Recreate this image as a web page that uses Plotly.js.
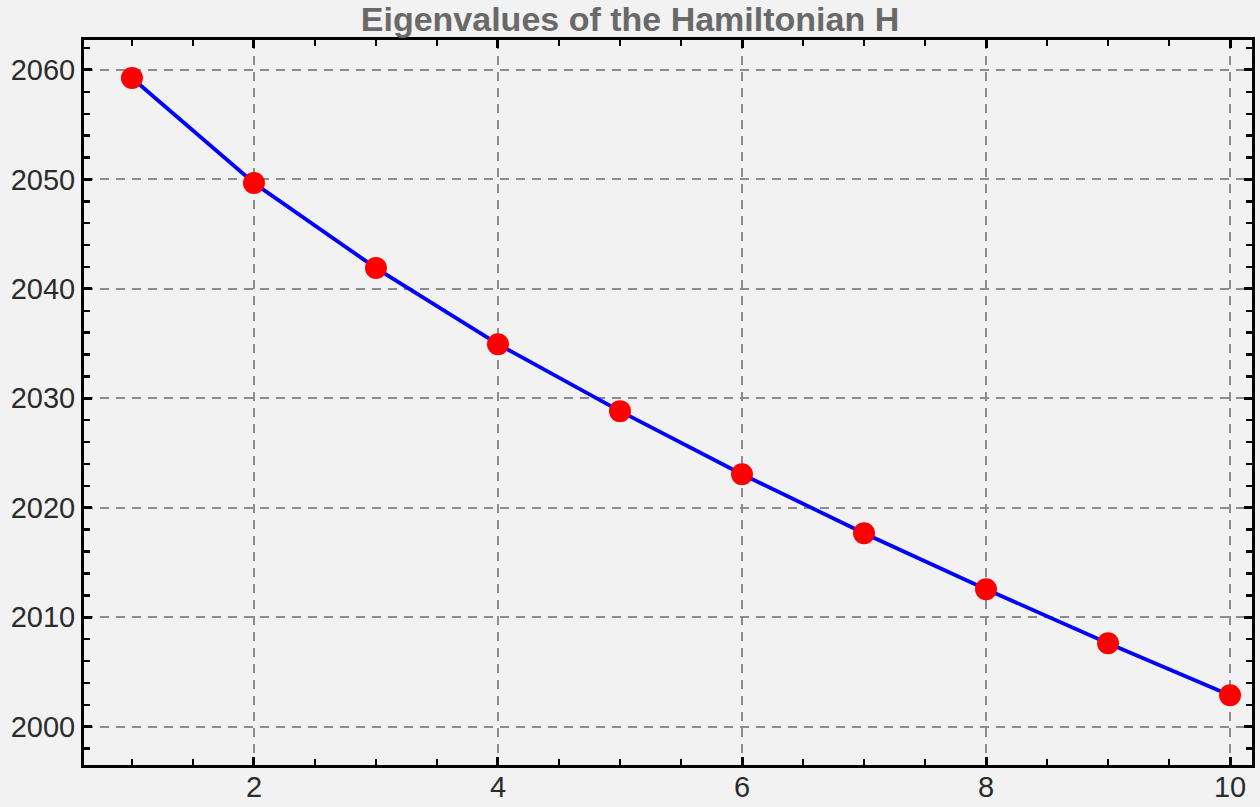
<!DOCTYPE html>
<html>
<head>
<meta charset="utf-8">
<script src="https://cdn.plot.ly/plotly-3.0.1.min.js"></script>
<style>
  html, body { margin: 0; padding: 0; background: #f2f2f2; }
  #chart { width: 1260px; height: 807px; }
</style>
</head>
<body>
<div id="chart"></div>
<script>
// Eigenvalue index and the corresponding eigenvalues of H
const levelIndex = [1, 2, 3, 4, 5, 6, 7, 8, 9, 10];
const eigenvalues = [2059.27, 2049.67, 2041.9, 2034.95, 2028.83, 2023.07, 2017.68, 2012.56, 2007.62, 2002.87];
const xTickValues = [2, 4, 6, 8, 10];
const yTickValues = [2000, 2010, 2020, 2030, 2040, 2050, 2060];

const tickFont = { family: 'Liberation Sans, Arial, sans-serif', size: 29, color: '#2b2b2b' };

const trace = {
  x: levelIndex,
  y: eigenvalues,
  type: 'scatter',
  mode: 'lines+markers',
  line: { color: '#0000ff', width: 3.8 },
  marker: { color: '#ff0000', size: 22 },
  hoverinfo: 'x+y'
};

const frameAxis = {
  showline: true,
  linecolor: '#000000',
  linewidth: 3,
  mirror: 'ticks',
  ticks: 'inside',
  ticklen: 8,
  tickwidth: 3,
  tickcolor: '#000000',
  showgrid: true,
  gridcolor: '#8c8c8c',
  gridwidth: 2,
  griddash: '9px,7px',
  zeroline: false,
  tickfont: tickFont
};

const layout = {
  width: 1260,
  height: 807,
  paper_bgcolor: '#f2f2f2',
  plot_bgcolor: '#f2f2f2',
  margin: { l: 84, r: 8, t: 40, b: 42 },
  showlegend: false,
  title: {
    text: 'Eigenvalues of the Hamiltonian H',
    font: { family: 'Liberation Sans, Arial, sans-serif', size: 34, color: '#696969', weight: 'bold' },
    x: 0.5,
    xanchor: 'center',
    y: 0.976,
    yref: 'container',
    yanchor: 'middle'
  },
  xaxis: Object.assign({}, frameAxis, {
    range: [0.607, 10.18],
    tickvals: xTickValues,
    ticktext: xTickValues.map(String),
    ticklabelstandoff: -6,
    minor: { dtick: 0.5, tick0: 0, ticks: 'inside', ticklen: 6, tickwidth: 2.5, tickcolor: '#000000', showgrid: false }
  }),
  yaxis: Object.assign({}, frameAxis, {
    range: [1996.5, 2062.74],
    tickvals: yTickValues,
    ticktext: yTickValues.map(String),
    minor: { dtick: 2, tick0: 0, ticks: 'inside', ticklen: 6, tickwidth: 2.5, tickcolor: '#000000', showgrid: false }
  })
};

Plotly.newPlot('chart', [trace], layout, { displayModeBar: false, staticPlot: true });
</script>
</body>
</html>
